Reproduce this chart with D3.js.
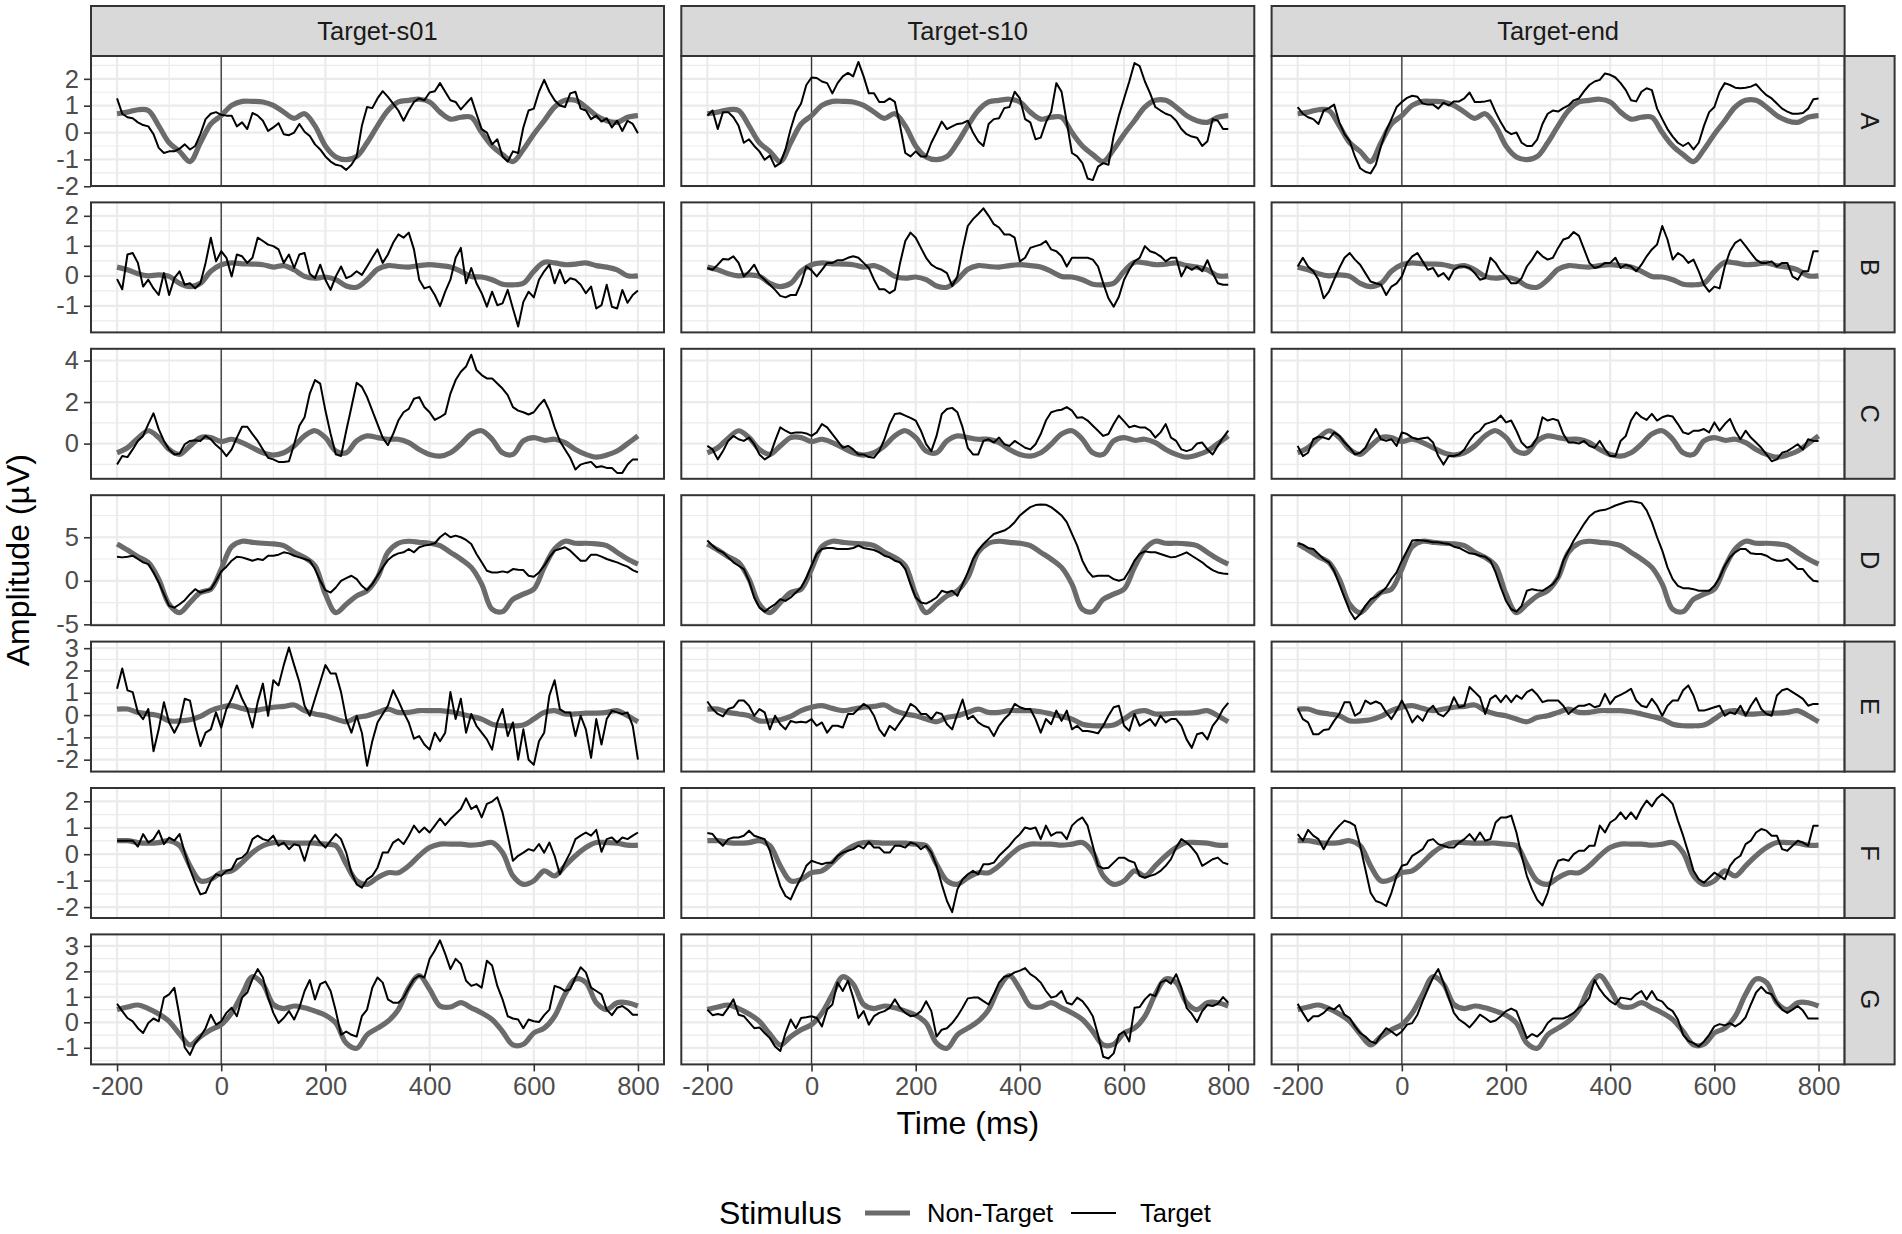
<!DOCTYPE html>
<html>
<head>
<meta charset="utf-8">
<script src="https://cdn.jsdelivr.net/npm/d3@7"></script>
<style>
body { margin: 0; background: #fff; }
svg { display: block; font-family: "Liberation Sans", Arial, Helvetica, sans-serif; }
</style>
</head>
<body>
<svg id="chart" width="1902" height="1234"></svg>
<script>
// facet labels and ticks
var columns = ["Target-s01", "Target-s10", "Target-end"];
var rows = ["A", "B", "C", "D", "E", "F", "G"];
var xTicks = [-200, 0, 200, 400, 600, 800];
var yTicks = [
    [-2, -1, 0, 1, 2],
    [-1, 0, 1, 2],
    [0, 2, 4],
    [-5, 0, 5],
    [-2, -1, 0, 1, 2, 3],
    [-2, -1, 0, 1, 2],
    [-1, 0, 1, 2, 3]
];

// Non-Target averages, one per row (every 20 ms, -200..800), same in all columns
var nonTargetA = [0.70,0.76,0.85,0.82,0.25,-0.38,-0.70,-1.08,-0.38,0.32,0.63,1.01,1.16,1.16,1.14,1.01,0.76,0.53,0.70,0.25,-0.50,-0.91,-1.01,-0.89,-0.38,0.25,0.82,1.14,1.20,1.24,1.14,0.76,0.50,0.57,0.57,0.00,-0.50,-0.82,-1.08,-0.63,-0.06,0.44,0.95,1.20,1.20,0.95,0.63,0.44,0.38,0.57,0.63];
var nonTargetB = [0.29,0.20,0.07,0.00,0.03,-0.02,-0.25,-0.36,-0.25,0.15,0.37,0.43,0.40,0.39,0.37,0.29,0.34,0.20,-0.02,-0.08,-0.04,-0.13,-0.34,-0.38,-0.13,0.22,0.34,0.31,0.29,0.34,0.37,0.34,0.29,0.15,-0.02,-0.04,-0.13,-0.28,-0.30,-0.25,0.15,0.45,0.43,0.37,0.39,0.43,0.34,0.29,0.20,0.00,0.00];
var nonTargetC = [-0.44,-0.20,0.26,0.62,0.29,-0.28,-0.52,-0.11,0.29,0.29,0.10,0.21,0.05,-0.20,-0.44,-0.55,-0.44,-0.11,0.37,0.62,0.29,-0.36,-0.44,0.13,0.37,0.29,0.21,0.21,0.05,-0.28,-0.52,-0.60,-0.44,-0.03,0.46,0.62,0.21,-0.44,-0.52,0.13,0.29,0.16,0.21,0.05,-0.28,-0.52,-0.65,-0.55,-0.36,0.00,0.37];
var nonTargetD = [4.23,3.54,2.77,2.12,0.19,-2.70,-3.65,-2.50,-1.35,-0.96,1.35,3.92,4.54,4.42,4.31,4.23,4.04,3.27,2.69,1.73,-1.54,-3.65,-2.70,-1.73,-1.15,0.38,3.27,4.31,4.54,4.42,4.31,4.04,3.27,2.50,1.54,-0.38,-3.27,-3.54,-2.12,-1.54,-0.96,1.54,3.65,4.54,4.31,4.31,4.23,4.04,3.27,2.50,1.92];
var nonTargetE = [0.27,0.27,0.12,0.05,-0.03,-0.26,-0.26,-0.21,-0.06,0.20,0.35,0.42,0.30,0.20,0.27,0.35,0.39,0.45,0.20,0.05,-0.03,-0.18,-0.30,-0.11,-0.03,0.12,0.27,0.12,0.12,0.20,0.20,0.20,0.15,0.05,-0.06,-0.18,-0.41,-0.48,-0.48,-0.45,-0.18,0.12,0.20,0.05,0.05,0.09,0.09,0.12,0.20,-0.03,-0.30];
var nonTargetF = [0.51,0.51,0.44,0.42,0.44,0.51,0.32,-0.44,-1.01,-0.95,-0.70,-0.63,-0.32,0.06,0.32,0.44,0.44,0.42,0.42,0.42,0.38,0.32,-0.38,-1.01,-1.14,-0.89,-0.70,-0.70,-0.44,-0.06,0.25,0.38,0.38,0.38,0.34,0.38,0.44,0.06,-0.82,-1.14,-1.01,-0.63,-0.82,-0.44,-0.06,0.25,0.44,0.44,0.42,0.34,0.34];
var nonTargetG = [0.50,0.60,0.68,0.54,0.33,0.04,-0.46,-0.89,-0.56,-0.29,-0.09,0.37,1.10,1.79,1.50,0.70,0.54,0.64,0.57,0.44,0.28,-0.03,-0.82,-1.02,-0.49,-0.23,0.04,0.50,1.36,1.83,1.30,0.64,0.60,0.77,0.57,0.37,0.11,-0.36,-0.89,-0.86,-0.42,-0.23,0.24,1.10,1.70,1.56,0.77,0.50,0.77,0.77,0.64];

// Target averages (every 10 ms, -200..800)
var targetA_s01 = [1.27,0.70,0.57,0.53,0.38,0.28,0.23,-0.06,-0.57,-0.76,
    -0.70,-0.70,-0.60,-0.44,-0.63,-0.50,-0.06,0.50,0.70,0.76,
    0.66,0.63,0.63,0.23,0.38,0.13,0.73,0.63,0.44,0.06,
    0.19,0.35,-0.06,-0.10,0.00,0.32,0.03,-0.13,-0.44,-0.63,
    -0.89,-1.08,-1.20,-1.24,-1.39,-1.20,-0.89,0.25,0.95,0.91,
    1.27,1.54,1.33,1.08,0.82,0.44,0.82,1.14,1.27,1.20,
    1.49,1.54,1.84,1.52,1.20,1.14,0.86,1.08,1.29,0.70,
    0.13,0.00,-0.44,-0.25,-0.89,-1.08,-0.70,-0.76,0.19,0.82,
    0.89,1.52,1.96,1.52,1.20,1.01,0.95,1.46,1.52,0.89,
    0.82,0.50,0.63,0.41,0.53,0.19,0.44,0.06,0.44,0.32,
    -0.03];
var targetA_s10 = [0.63,0.82,0.13,0.76,0.76,0.57,0.25,-0.38,-0.25,-0.50,
    -0.70,-1.01,-0.86,-1.27,-1.14,-0.63,0.13,0.76,1.08,1.77,
    2.05,2.03,1.90,1.84,1.46,1.84,2.09,2.22,2.09,2.63,
    2.09,1.46,1.46,1.14,1.14,1.27,1.14,0.25,-0.76,-0.89,
    -0.70,-0.89,-0.89,-0.38,0.00,0.41,0.13,0.23,0.32,0.35,
    0.44,0.00,-0.32,-0.50,0.32,0.50,0.53,0.91,0.95,1.52,
    1.27,0.50,0.38,-0.25,-0.19,0.38,0.76,1.84,1.52,0.38,
    -0.76,-0.89,-1.14,-1.71,-1.77,-1.27,-1.14,-1.20,-0.13,0.63,
    1.27,1.90,2.59,2.47,1.90,1.46,0.95,0.82,0.70,0.63,
    0.44,0.13,-0.06,-0.15,-0.19,-0.50,-0.32,0.50,0.44,0.13,
    0.13];
var targetA_end = [0.95,0.70,0.57,0.50,0.32,0.82,0.91,1.04,0.38,-0.06,
    -0.32,-0.89,-1.33,-1.46,-1.52,-1.20,-0.50,0.06,0.50,0.95,
    1.14,1.29,1.37,1.33,1.08,1.04,1.04,0.89,1.11,1.01,
    1.16,1.16,1.27,1.49,1.14,1.14,1.16,1.20,0.76,0.38,
    0.06,-0.06,0.00,-0.38,-0.50,-0.50,-0.25,0.32,0.70,0.82,
    0.78,0.91,1.01,1.20,1.27,1.54,1.77,1.90,1.96,2.20,
    2.15,2.05,1.84,1.58,1.20,1.16,1.52,1.65,1.58,0.89,
    0.50,0.13,-0.15,-0.38,-0.50,-0.38,-0.63,-0.38,0.25,0.76,
    0.95,1.52,1.84,1.77,1.67,1.65,1.67,1.71,1.80,1.58,
    1.39,1.27,1.08,0.89,0.78,0.70,0.70,0.73,0.89,1.24,
    1.27];
var targetB_s01 = [-0.11,-0.45,0.71,0.76,0.43,-0.36,-0.13,-0.42,-0.64,0.09,
    -0.64,-0.08,0.15,-0.30,-0.25,-0.42,-0.25,0.43,1.27,0.48,
    0.82,0.60,-0.02,0.71,0.65,0.43,0.60,1.27,1.16,1.04,
    0.99,0.88,0.43,0.71,0.26,0.71,0.76,0.07,-0.08,0.37,
    -0.13,-0.47,-0.02,0.31,-0.08,0.00,0.15,0.03,0.31,0.60,
    0.88,0.43,0.71,1.10,1.38,1.27,1.44,0.88,-0.13,-0.42,
    -0.36,-0.64,-1.01,-0.53,-0.13,0.60,0.93,-0.25,0.26,-0.25,
    -0.58,-1.03,-0.53,-0.98,-0.92,-0.47,-1.09,-1.69,-0.87,-0.53,
    -0.72,-0.13,0.15,0.37,-0.25,0.20,-0.25,-0.08,-0.13,-0.30,
    -0.58,-0.36,-1.09,-0.98,-0.30,-1.03,-1.09,-0.47,-0.90,-0.64,
    -0.49];
var targetB_s10 = [0.26,0.20,0.37,0.56,0.54,0.65,0.43,-0.02,0.15,0.37,
    0.03,-0.13,-0.30,-0.47,-0.67,-0.72,-0.64,-0.64,-0.25,0.31,
    0.18,-0.02,0.20,0.43,0.43,0.52,0.52,0.60,0.65,0.60,
    0.43,0.26,-0.13,-0.45,-0.45,-0.58,-0.47,0.43,1.16,1.44,
    1.27,0.93,0.60,0.37,0.26,0.20,0.09,-0.34,-0.02,0.88,
    1.66,1.89,2.06,2.25,2.00,1.72,1.61,1.38,1.38,1.27,
    0.48,0.60,0.93,0.99,1.04,1.16,0.88,0.82,0.65,0.31,
    0.60,0.60,0.60,0.60,0.54,0.31,-0.25,-0.75,-1.03,-0.70,
    -0.13,0.20,0.48,0.60,0.99,0.82,0.76,0.65,0.48,0.60,
    0.60,-0.02,0.31,0.20,0.31,0.15,0.52,0.09,-0.25,-0.30,
    -0.30];
var targetB_end = [0.31,0.60,0.31,0.15,-0.13,-0.75,-0.53,-0.13,0.26,0.60,
    0.76,0.54,0.37,0.09,-0.19,-0.25,-0.30,-0.64,-0.36,-0.25,
    -0.02,0.43,0.65,0.76,0.48,0.20,0.26,-0.02,0.09,-0.13,
    0.20,0.31,0.31,0.26,0.09,-0.13,-0.08,0.60,0.43,0.15,
    -0.02,-0.25,-0.25,-0.08,0.31,0.54,0.82,0.65,0.54,0.60,
    0.93,1.21,1.27,1.46,1.33,0.88,0.43,0.26,0.31,0.43,
    0.43,0.60,0.26,0.37,0.31,0.15,0.37,0.65,0.88,1.04,
    1.66,1.21,0.54,0.76,0.65,0.43,0.54,0.15,-0.30,-0.53,
    -0.36,-0.42,0.31,0.82,1.10,1.21,0.99,0.76,0.54,0.43,
    0.43,0.48,0.31,0.43,0.43,-0.02,-0.13,0.15,0.15,0.82,
    0.82];
var targetC_s01 = [-1.01,-0.60,-0.65,-0.28,0.13,0.37,0.94,1.46,0.70,0.13,
    -0.28,-0.52,-0.49,-0.03,0.13,0.16,0.13,0.37,0.21,-0.07,
    -0.28,-0.60,-0.28,0.29,0.81,0.81,0.46,0.13,-0.28,-0.68,
    -0.76,-0.88,-0.88,-0.85,-0.03,0.86,1.27,2.41,3.06,2.89,
    1.59,0.46,-0.52,-0.60,0.62,1.76,2.93,2.73,2.24,1.59,
    0.94,0.29,-0.07,0.46,1.11,1.51,1.67,2.16,2.24,1.76,
    1.51,1.14,1.27,1.43,2.41,3.06,3.46,3.71,4.28,3.54,
    3.30,3.14,3.14,2.89,2.65,2.33,1.76,1.59,1.51,1.40,
    1.51,1.84,2.11,1.59,0.78,0.13,-0.28,-0.68,-1.25,-1.01,
    -0.93,-0.88,-1.14,-1.09,-1.17,-1.17,-1.41,-1.41,-1.01,-0.76,
    -0.76];
var targetC_s10 = [-0.11,-0.28,-0.76,-0.36,0.13,0.37,0.21,0.13,0.29,-0.03,
    -0.52,-0.76,-0.60,0.13,0.78,0.62,0.49,0.54,0.54,0.49,
    0.37,0.54,0.94,0.78,0.46,0.13,-0.20,-0.11,-0.28,-0.52,
    -0.52,-0.65,-0.68,-0.36,0.21,0.94,1.43,1.46,1.35,1.24,
    1.11,0.62,-0.03,-0.36,0.37,1.43,1.67,1.72,1.51,0.78,
    -0.20,-0.52,-0.52,0.13,0.21,0.05,0.29,-0.03,-0.11,0.13,
    -0.03,-0.20,-0.28,-0.03,0.46,1.11,1.51,1.59,1.63,1.76,
    1.59,1.24,1.27,1.11,0.86,0.62,0.37,0.46,0.94,1.35,
    1.07,0.78,0.86,0.78,0.78,0.62,0.29,0.54,0.94,0.29,
    0.13,-0.28,-0.36,-0.28,0.00,0.05,-0.28,-0.52,-0.11,0.29,
    0.62];
var targetC_end = [-0.11,-0.60,-0.44,0.21,0.33,0.29,0.21,0.54,0.37,0.05,
    -0.20,-0.52,-0.44,-0.20,0.29,0.70,0.21,0.13,0.21,-0.11,
    0.54,0.46,0.29,0.21,0.26,0.29,0.05,-0.60,-1.01,-0.60,
    -0.60,-0.52,-0.28,0.13,0.46,0.62,0.94,1.02,1.11,1.35,
    1.02,1.11,0.62,0.05,-0.20,-0.11,0.29,1.27,1.11,1.19,
    1.11,0.46,0.05,0.05,0.00,0.13,-0.11,-0.20,0.13,-0.28,
    -0.60,-0.60,0.13,0.37,1.11,1.51,1.27,1.14,1.43,1.11,
    1.27,1.35,1.30,0.94,0.54,0.46,0.62,0.62,0.70,0.54,
    1.02,0.62,0.94,1.19,0.62,0.21,0.62,0.29,0.05,-0.20,
    -0.52,-0.85,-0.76,-0.44,-0.36,-0.20,-0.03,-0.28,0.21,0.13,
    0.13];
var targetD_s01 = [2.77,2.69,2.77,2.88,2.50,2.12,1.92,0.96,-0.19,-1.54,
    -2.88,-3.08,-2.69,-2.23,-1.54,-0.96,-1.35,-1.15,-0.96,0.00,
    1.08,1.62,2.31,2.77,2.69,2.50,2.31,2.50,2.38,2.88,
    2.88,3.00,3.27,3.15,2.88,2.69,2.50,2.31,1.35,0.00,
    -1.08,-1.35,-0.77,0.00,0.31,0.58,0.19,-0.58,-1.08,-0.38,
    0.58,1.54,2.38,2.88,3.15,3.27,3.65,3.27,3.85,4.04,
    4.15,4.31,5.00,5.46,5.00,5.19,5.00,4.69,4.23,3.08,
    2.12,1.15,0.96,0.96,1.08,0.96,1.35,1.27,1.23,0.58,
    0.46,0.96,1.73,2.69,3.46,3.65,3.85,3.46,2.88,2.31,
    2.31,3.00,3.00,2.77,2.50,2.31,2.12,1.85,1.62,1.23,
    0.96];
var targetD_s10 = [4.62,4.04,3.54,3.27,2.69,2.12,1.73,1.35,0.00,-1.92,
    -3.08,-3.54,-3.08,-2.69,-2.12,-2.31,-1.92,-1.35,-0.77,0.31,
    1.73,3.08,3.65,3.77,3.77,3.65,3.65,3.65,3.77,4.04,
    3.77,3.65,3.54,3.27,2.88,2.69,2.31,2.12,1.35,-0.38,
    -1.92,-2.50,-2.62,-2.31,-1.92,-1.15,-1.35,-1.15,-1.73,-0.38,
    0.96,2.50,3.46,4.23,4.81,5.38,5.58,5.77,6.15,6.73,
    7.50,8.00,8.46,8.69,8.77,8.73,8.46,8.00,7.50,6.73,
    5.38,4.04,2.31,1.15,0.46,0.58,0.58,0.58,0.19,0.00,
    0.19,1.15,2.31,3.08,3.38,3.27,3.27,3.08,2.88,2.69,
    2.77,3.00,3.27,2.88,2.50,2.12,1.62,1.23,0.96,0.85,
    0.77];
var targetD_end = [4.31,4.15,3.77,3.65,3.08,2.50,2.12,1.15,-0.38,-1.92,
    -3.46,-4.42,-3.85,-2.88,-2.12,-1.85,-1.35,-0.77,0.19,0.96,
    2.31,3.46,4.62,4.69,4.62,4.54,4.42,4.42,4.31,4.23,
    3.92,3.77,3.46,3.15,3.08,2.88,2.77,2.31,0.96,-0.77,
    -2.31,-3.27,-3.54,-2.88,-1.15,-0.96,-1.08,-1.15,-0.77,-0.38,
    0.38,2.31,3.46,4.62,5.58,6.54,7.38,7.88,8.08,8.15,
    8.38,8.65,8.85,9.04,9.15,9.04,8.92,8.08,6.73,5.00,
    3.46,1.54,0.19,-0.58,-0.85,-0.85,-0.96,-1.15,-1.15,-1.15,
    -0.58,0.38,1.73,2.69,3.27,3.65,3.65,3.15,3.08,3.08,
    2.88,2.50,2.31,2.31,2.50,1.92,1.35,1.35,0.58,0.00,
    -0.08];
var targetE_s01 = [1.18,2.09,1.11,1.03,0.12,-0.18,0.27,-1.62,-0.64,0.58,
    -0.33,-0.79,-0.33,0.73,0.65,-0.48,-1.39,-0.79,-0.64,0.12,
    -0.56,0.27,0.73,1.33,0.73,0.27,-0.56,0.58,1.41,-0.03,
    1.56,1.33,2.24,3.03,2.24,1.48,0.42,-0.03,0.73,1.48,
    2.24,1.86,1.86,1.03,-0.18,-0.79,-0.03,-0.79,-2.27,-1.17,
    -0.33,0.05,0.42,1.11,0.65,0.12,-0.33,-1.06,-0.94,-1.32,
    -1.55,-0.79,-1.17,-0.79,1.03,-0.18,0.73,-0.79,0.05,-0.48,
    -0.79,-1.09,-1.55,-0.33,0.27,-0.94,-0.33,-2.00,-0.64,-2.00,
    -2.23,-1.17,-0.79,0.88,1.56,0.27,0.12,0.12,-0.94,-0.03,
    -0.64,-1.92,-0.18,-1.32,-0.18,0.20,0.12,0.05,0.12,-0.48,
    -2.00];
var targetE_s10 = [0.61,0.27,0.05,-0.06,0.27,0.35,0.65,0.65,0.42,-0.03,
    0.27,0.12,-0.64,-0.03,-0.41,-0.64,-0.26,-0.33,-0.30,-0.33,
    -0.18,-0.48,-0.33,-0.79,-0.48,-0.48,-0.56,0.05,0.05,0.27,
    0.50,0.35,-0.03,-0.64,-0.94,-0.48,-0.67,-0.33,0.00,0.50,
    0.35,0.05,0.05,-0.18,0.12,0.05,-0.41,-0.64,0.05,0.70,
    -0.18,-0.03,-0.33,-0.48,-0.56,-0.94,-0.48,-0.18,0.05,0.50,
    0.35,0.27,0.27,-0.18,-0.79,-0.18,-0.41,0.20,-0.26,0.20,
    -0.64,-0.48,-0.71,-0.71,-0.76,-0.82,-0.48,-0.03,0.35,0.42,
    -0.48,-0.71,0.05,-0.48,-0.33,-0.18,-0.48,-0.03,-0.33,-0.18,
    -0.18,-0.48,-1.09,-1.47,-0.86,-0.79,-1.09,-0.48,-0.18,0.27,
    0.55];
var targetE_end = [0.30,-0.18,-0.33,-0.86,-0.86,-0.67,-0.64,-0.26,0.05,0.58,
    0.58,-0.03,0.12,0.65,0.50,0.61,0.50,0.12,-0.18,0.20,
    0.65,0.20,-0.33,-0.03,-0.26,0.20,0.42,0.05,-0.06,0.20,
    0.80,0.35,0.42,1.26,1.03,0.80,0.05,0.73,0.88,0.58,
    0.88,0.58,0.88,0.73,1.03,1.15,0.91,0.58,0.65,0.65,
    0.65,0.42,0.05,0.27,0.42,0.42,0.50,0.35,0.42,0.95,
    0.50,0.80,0.91,1.03,1.18,0.65,0.42,0.35,0.73,0.42,
    -0.03,0.42,0.65,0.65,1.11,1.33,0.88,0.20,0.20,0.27,
    0.35,0.42,-0.03,0.12,0.05,0.42,-0.03,0.42,0.76,0.27,
    0.05,-0.03,0.88,1.11,1.18,1.03,0.88,0.73,0.42,0.50,
    0.50];
var targetF_s01 = [0.51,0.51,0.51,0.51,0.29,0.76,0.44,0.57,0.89,0.38,
    0.63,0.51,0.76,0.06,-0.57,-1.08,-1.52,-1.46,-1.01,-0.76,
    -0.82,-0.63,-0.57,-0.19,-0.13,0.06,0.57,0.70,0.57,0.51,
    0.70,0.32,0.44,0.19,0.38,0.32,-0.25,0.44,0.72,0.44,
    0.25,0.51,0.76,0.57,0.06,-0.70,-1.14,-1.27,-0.95,-0.82,
    -0.51,0.06,0.06,0.44,0.57,0.38,0.70,1.08,0.82,1.01,
    0.82,1.08,1.35,1.10,1.33,1.52,1.71,2.11,1.71,1.84,
    1.39,1.90,1.99,2.15,1.58,0.70,-0.25,-0.06,0.06,0.19,
    0.13,0.38,0.06,0.44,-0.06,-0.76,-0.32,0.06,0.57,0.70,
    0.82,0.70,0.92,0.09,0.57,0.63,0.44,0.63,0.57,0.70,
    0.82];
var targetF_s10 = [0.80,0.76,0.51,0.32,0.57,0.63,0.63,0.70,0.89,0.70,
    0.63,0.57,0.13,-0.57,-1.20,-1.58,-1.71,-1.27,-0.89,-0.44,
    -0.25,-0.32,-0.38,-0.32,-0.32,-0.06,0.06,0.13,0.19,0.32,
    0.22,0.47,0.25,0.25,0.06,0.06,0.32,0.32,0.25,0.44,
    0.38,0.19,0.32,0.06,-0.44,-1.14,-1.77,-2.19,-1.33,-0.95,
    -0.76,-0.63,-0.76,-0.38,-0.38,-0.32,-0.06,0.13,0.32,0.57,
    0.76,1.01,0.95,1.01,0.57,1.08,0.70,0.82,0.82,0.57,
    1.08,1.27,1.39,1.08,0.32,-0.44,-0.54,-0.51,-0.32,-0.13,
    -0.13,-0.25,-0.32,-0.82,-0.89,-0.82,-0.76,-0.63,-0.44,-0.19,
    0.25,0.57,0.44,0.25,0.00,-0.44,-0.32,-0.19,-0.13,-0.32,
    -0.38];
var targetF_end = [0.76,0.51,0.92,0.70,0.57,0.19,0.57,0.85,1.08,1.27,
    1.20,1.08,0.32,-0.57,-1.46,-1.77,-1.84,-1.96,-1.46,-0.82,
    -0.44,-0.38,-0.06,0.06,0.19,0.51,0.57,0.38,0.32,0.25,
    0.25,0.44,0.57,0.76,0.51,0.82,0.51,0.57,1.20,1.39,
    1.39,1.46,0.82,-0.06,-0.82,-1.33,-1.73,-1.94,-1.46,-0.70,
    -0.25,-0.19,-0.25,0.00,0.13,0.13,0.32,0.32,1.08,0.82,
    1.20,1.33,1.58,1.33,1.58,1.33,1.73,2.03,1.81,2.11,
    2.28,2.11,1.90,1.27,0.70,0.06,-0.63,-0.95,-1.08,-0.89,
    -0.70,-0.82,-0.95,-0.44,-0.19,-0.06,0.38,0.51,0.82,0.95,
    0.89,0.70,0.70,0.19,0.13,0.32,0.51,0.44,0.32,1.08,
    1.08];
var targetG_s01 = [0.73,0.44,0.17,0.04,-0.23,-0.42,-0.03,0.15,0.04,0.97,
    1.10,1.36,0.24,-0.99,-1.28,-0.82,-0.56,-0.23,0.30,-0.09,
    0.04,0.37,0.57,0.24,0.97,1.17,1.70,2.09,1.76,0.97,
    0.37,-0.03,0.17,0.44,0.11,0.57,1.23,1.66,0.90,1.50,
    1.60,1.23,0.44,-0.49,-0.36,-0.49,-0.56,0.24,0.50,1.36,
    1.76,1.56,0.90,0.77,0.77,0.97,1.36,1.70,1.83,1.76,
    2.49,2.82,3.22,2.69,2.09,2.49,2.29,1.63,1.43,1.50,
    1.36,2.42,2.23,1.43,0.90,0.24,0.15,0.11,-0.23,0.11,
    0.04,0.01,0.28,0.50,1.43,1.36,1.23,1.30,1.76,2.16,
    1.96,1.36,1.23,1.10,0.50,0.28,0.57,0.64,0.50,0.30,
    0.30];
var targetG_s10 = [0.50,0.28,0.33,0.28,0.57,0.90,0.30,0.24,0.01,-0.23,
    -0.20,-0.42,-0.62,-0.95,-1.13,-0.42,0.11,-0.23,0.17,0.20,
    0.24,0.17,-0.16,0.50,0.70,1.56,1.23,1.63,0.97,0.17,
    0.44,-0.09,0.24,0.37,0.44,0.57,0.90,0.57,0.37,0.24,
    0.28,0.44,0.83,0.44,-0.56,-0.29,-0.23,-0.03,0.24,0.57,
    0.94,0.97,0.97,0.83,0.70,1.10,1.56,1.79,1.83,1.96,
    2.03,2.13,1.89,1.76,1.56,1.23,0.97,1.03,1.23,0.77,
    0.70,0.97,0.83,0.57,0.24,-0.49,-1.35,-1.42,-1.22,-0.49,
    -0.36,-0.75,0.57,0.60,0.90,1.10,1.03,1.56,1.66,1.52,
    1.89,1.36,0.57,0.33,0.01,0.44,0.68,0.64,0.73,0.99,
    0.77];
var targetG_end = [0.73,0.37,0.04,0.24,0.24,0.37,0.57,0.50,0.68,0.30,
    0.17,-0.16,-0.42,-0.56,-0.75,-0.82,-0.49,-0.23,-0.36,-0.52,
    -0.36,-0.09,-0.03,0.30,0.83,1.30,1.76,2.09,1.56,0.97,
    0.37,0.11,-0.03,-0.20,0.04,0.30,0.17,0.01,0.07,0.24,
    0.44,0.54,0.44,-0.09,-0.62,-0.46,-0.56,-0.36,-0.03,0.15,
    0.15,0.15,0.24,0.37,0.57,0.70,0.97,1.66,1.30,1.03,
    0.83,0.70,0.97,0.94,0.90,1.10,1.23,0.90,1.23,0.90,
    0.81,0.57,0.44,0.11,-0.49,-0.73,-0.82,-0.95,-0.75,-0.49,
    -0.16,-0.07,-0.12,-0.03,-0.16,-0.03,0.20,0.70,1.17,1.39,
    1.17,1.10,0.77,0.50,0.37,0.50,0.64,0.46,0.15,0.15,
    0.15];

var nonTarget = [nonTargetA, nonTargetB, nonTargetC, nonTargetD, nonTargetE, nonTargetF, nonTargetG];
var target = [
    [targetA_s01, targetA_s10, targetA_end],
    [targetB_s01, targetB_s10, targetB_end],
    [targetC_s01, targetC_s10, targetC_end],
    [targetD_s01, targetD_s10, targetD_end],
    [targetE_s01, targetE_s10, targetE_end],
    [targetF_s01, targetF_s10, targetF_end],
    [targetG_s01, targetG_s10, targetG_end]
];

// layout
var width = 1902;
var height = 1234;
var left0 = 91, colStep = 590.3, panelW = 573;
var top0 = 56, rowStep = 146.4, panelH = 130;
var stripH = 50, stripW = 50;
var smallFont = "25.5px", titleFont = "32px";
var gridCol = "#ebebeb", borderCol = "#333333";
var nonTargetCol = "#6b6b6b";

// plain integer labels with a hyphen minus, like R prints them
function plainLabel(d) { return String(d); }

var svg = d3.select("#chart")
    .attr("width", width)
    .attr("height", height);

svg.append("rect").attr("width", width).attr("height", height).attr("fill", "#fff");

var x = d3.scaleLinear().domain([-250, 850]).range([0, panelW]);
var xMinor = [-100, 100, 300, 500, 700];

// spread each series over -200..800 ms
function toPoints(vals) {
    var step = 1000 / (vals.length - 1);
    return vals.map(function (v, i) { return { t: -200 + i * step, v: v }; });
}

rows.forEach(function (rowName, r) {
    var all = nonTarget[r].concat(target[r][0], target[r][1], target[r][2]);
    var ext = d3.extent(all);
    var pad = (ext[1] - ext[0]) * 0.05;
    var y = d3.scaleLinear().domain([ext[0] - pad, ext[1] + pad]).range([panelH, 0]);

    var ticks = yTicks[r];
    var tStep = ticks[1] - ticks[0];
    var yMinor = d3.range(ticks[0] - tStep / 2, ticks[ticks.length - 1] + tStep, tStep)
        .filter(function (v) { return v > y.domain()[0] && v < y.domain()[1]; });

    var lineSmooth = d3.line()
        .x(function (d) { return x(d.t); })
        .y(function (d) { return y(d.v); })
        .curve(d3.curveCatmullRom);
    var lineRaw = d3.line()
        .x(function (d) { return x(d.t); })
        .y(function (d) { return y(d.v); });

    columns.forEach(function (colName, c) {
        var px = left0 + c * colStep;
        var py = top0 + r * rowStep;
        var g = svg.append("g").attr("transform", "translate(" + px + "," + py + ")");

        g.append("rect").attr("width", panelW).attr("height", panelH).attr("fill", "#fff");

        // minor grid
        g.selectAll(".vminor").data(xMinor).enter().append("line")
            .attr("x1", function (d) { return x(d); }).attr("x2", function (d) { return x(d); })
            .attr("y1", 0).attr("y2", panelH)
            .attr("stroke", gridCol).attr("stroke-width", 1.2);
        g.selectAll(".hminor").data(yMinor).enter().append("line")
            .attr("x1", 0).attr("x2", panelW)
            .attr("y1", function (d) { return y(d); }).attr("y2", function (d) { return y(d); })
            .attr("stroke", gridCol).attr("stroke-width", 1.2);
        // major grid
        g.selectAll(".vmajor").data(xTicks).enter().append("line")
            .attr("x1", function (d) { return x(d); }).attr("x2", function (d) { return x(d); })
            .attr("y1", 0).attr("y2", panelH)
            .attr("stroke", gridCol).attr("stroke-width", 2.2);
        g.selectAll(".hmajor").data(ticks).enter().append("line")
            .attr("x1", 0).attr("x2", panelW)
            .attr("y1", function (d) { return y(d); }).attr("y2", function (d) { return y(d); })
            .attr("stroke", gridCol).attr("stroke-width", 2.2);

        // stimulus onset
        g.append("line")
            .attr("x1", x(0)).attr("x2", x(0))
            .attr("y1", 0).attr("y2", panelH)
            .attr("stroke", "#333").attr("stroke-width", 1.3);

        g.append("path")
            .datum(toPoints(nonTarget[r]))
            .attr("d", lineSmooth)
            .attr("fill", "none")
            .attr("stroke", nonTargetCol)
            .attr("stroke-width", 5.2)
            .attr("stroke-linejoin", "round");

        g.append("path")
            .datum(toPoints(target[r][c]))
            .attr("d", lineRaw)
            .attr("fill", "none")
            .attr("stroke", "#000")
            .attr("stroke-width", 2)
            .attr("stroke-linejoin", "round");

        g.append("rect").attr("width", panelW).attr("height", panelH)
            .attr("fill", "none").attr("stroke", borderCol).attr("stroke-width", 2);

        // column strip
        if (r === 0) {
            g.append("rect").attr("x", 0).attr("y", -stripH).attr("width", panelW).attr("height", stripH)
                .attr("fill", "#d9d9d9").attr("stroke", borderCol).attr("stroke-width", 2);
            g.append("text").attr("x", panelW / 2).attr("y", -stripH / 2).attr("dy", "0.35em")
                .attr("text-anchor", "middle").attr("font-size", smallFont).attr("fill", "#1a1a1a")
                .text(colName);
        }
        // row strip
        if (c === columns.length - 1) {
            g.append("rect").attr("x", panelW).attr("y", 0).attr("width", stripW).attr("height", panelH)
                .attr("fill", "#d9d9d9").attr("stroke", borderCol).attr("stroke-width", 2);
            g.append("text")
                .attr("transform", "translate(" + (panelW + stripW / 2) + "," + (panelH / 2) + ") rotate(90)")
                .attr("dy", "0.35em").attr("text-anchor", "middle")
                .attr("font-size", smallFont).attr("fill", "#1a1a1a")
                .text(rowName);
        }
        // y axis
        if (c === 0) {
            var ya = g.append("g").call(d3.axisLeft(y).tickValues(ticks).tickFormat(plainLabel)
                .tickSize(7).tickPadding(5));
            ya.select(".domain").remove();
            ya.selectAll("line").attr("stroke", borderCol).attr("stroke-width", 1.6);
            ya.selectAll("text").attr("font-size", smallFont).attr("fill", "#4d4d4d")
                .attr("font-family", "'Liberation Sans', Arial, sans-serif");
        }
        // x axis
        if (r === rows.length - 1) {
            var xa = g.append("g").attr("transform", "translate(0," + panelH + ")")
                .call(d3.axisBottom(x).tickValues(xTicks).tickFormat(plainLabel)
                    .tickSize(7).tickPadding(6));
            xa.select(".domain").remove();
            xa.selectAll("line").attr("stroke", borderCol).attr("stroke-width", 1.6);
            xa.selectAll("text").attr("font-size", smallFont).attr("fill", "#4d4d4d")
                .attr("font-family", "'Liberation Sans', Arial, sans-serif");
        }
    });
});

// axis titles
var panelsRight = left0 + 2 * colStep + panelW;
svg.append("text")
    .attr("x", (left0 + panelsRight) / 2).attr("y", 1134)
    .attr("text-anchor", "middle").attr("font-size", titleFont).attr("fill", "#000")
    .text("Time (ms)");
svg.append("text")
    .attr("transform", "translate(18," + (top0 + (6 * rowStep + panelH) / 2) + ") rotate(-90)")
    .attr("dy", "0.35em").attr("text-anchor", "middle")
    .attr("font-size", titleFont).attr("fill", "#000")
    .text("Amplitude (µV)");

// legend
var legendY = 1213;
var legend = svg.append("g");
legend.append("text").attr("x", 719).attr("y", legendY).attr("dy", "0.35em")
    .attr("font-size", titleFont).attr("fill", "#000").text("Stimulus");
var legendItems = [
    { label: "Non-Target", color: nonTargetCol, w: 5.2, x0: 865, tx: 927 },
    { label: "Target", color: "#000", w: 2, x0: 1071, tx: 1140 }
];
legendItems.forEach(function (d) {
    legend.append("line").attr("x1", d.x0).attr("x2", d.x0 + 45)
        .attr("y1", legendY).attr("y2", legendY)
        .attr("stroke", d.color).attr("stroke-width", d.w);
    legend.append("text").attr("x", d.tx).attr("y", legendY).attr("dy", "0.35em")
        .attr("font-size", smallFont).attr("fill", "#000").text(d.label);
});
</script>
</body>
</html>
